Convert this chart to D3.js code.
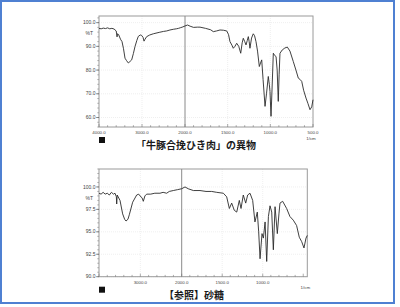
<!DOCTYPE html>
<html>
<head>
<meta charset="utf-8">
<script src="https://cdn.jsdelivr.net/npm/d3@7"></script>
<style>
  html, body { margin: 0; padding: 0; background: #fff; }
  svg { display: block; }
</style>
</head>
<body>
<div id="chart"></div>
<script>
// 上段: 牛豚合挽ひき肉の異物
const topWavenumbers = [4000, 3950, 3900, 3850, 3800, 3750, 3700, 3650, 3600, 3580, 3570, 3545, 3500, 3465, 3430, 3395, 3360, 3318, 3280, 3240, 3200, 3163, 3120, 3086, 3040, 3008, 2975, 2953, 2930, 2891, 2820, 2737, 2600, 2500, 2426, 2350, 2272, 2200, 2150, 2100, 2050, 2000, 1970, 1940, 1900, 1856, 1824, 1760, 1700, 1668, 1630, 1590, 1550, 1511, 1490, 1473, 1450, 1434, 1415, 1394, 1370, 1347, 1330, 1317, 1300, 1285, 1270, 1258, 1248, 1239, 1220, 1200, 1185, 1168, 1150, 1129, 1115, 1101, 1085, 1062, 1045, 1024, 1012, 1004, 992, 980, 965, 950, 933, 920, 907, 897, 887, 860, 830, 801, 770, 731, 700, 672, 650, 632, 610, 582, 560, 535, 515, 500];
const topTransmittance = [97.6, 97.4, 97.7, 97.5, 97.8, 97.4, 97.6, 97.3, 96.5, 94.0, 95.3, 95.0, 93.0, 92.0, 89.0, 85.0, 84.0, 83.0, 83.6, 84.3, 87.0, 89.9, 92.5, 94.2, 94.8, 94.6, 93.8, 92.2, 93.0, 94.1, 94.8, 95.3, 95.9, 96.3, 96.5, 96.9, 97.2, 97.4, 97.6, 97.9, 98.2, 98.6, 99.0, 98.5, 98.0, 98.1, 98.1, 97.6, 97.0, 96.2, 96.5, 96.9, 96.8, 96.5, 95.0, 92.0, 90.5, 89.2, 90.0, 91.3, 90.0, 87.1, 91.5, 93.4, 92.0, 90.6, 92.5, 94.1, 92.0, 89.2, 93.5, 95.3, 94.5, 92.0, 88.0, 81.5, 83.0, 84.3, 76.0, 64.7, 70.0, 77.3, 74.0, 71.0, 60.5, 72.0, 87.1, 86.2, 85.7, 80.0, 66.8, 78.0, 87.1, 88.5, 89.3, 89.7, 88.0, 83.6, 80.0, 76.6, 76.0, 75.2, 71.5, 68.2, 66.0, 63.3, 64.5, 67.5];

// 下段: 参照 砂糖
const bottomWavenumbers = [4000, 3950, 3900, 3850, 3800, 3750, 3700, 3650, 3613, 3580, 3572, 3560, 3492, 3428, 3380, 3347, 3300, 3267, 3186, 3089, 3040, 3008, 2960, 2928, 2890, 2847, 2750, 2650, 2525, 2450, 2364, 2300, 2203, 2100, 2000, 1959, 1920, 1856, 1774, 1700, 1630, 1568, 1486, 1445, 1412, 1383, 1351, 1321, 1289, 1268, 1240, 1210, 1186, 1157, 1124, 1096, 1067, 1050, 1033, 1009, 992, 971, 951, 930, 910, 889, 869, 848, 820, 800, 787, 754, 705, 664, 623, 582, 549, 519, 491, 466, 450];
const bottomTransmittance = [99.3, 99.2, 99.4, 99.2, 99.3, 99.1, 99.4, 99.2, 99.3, 98.9, 98.1, 99.1, 98.5, 97.0, 96.4, 96.2, 96.4, 96.9, 98.3, 99.1, 99.2, 99.0, 98.8, 98.4, 99.0, 99.2, 99.2, 99.3, 99.3, 99.4, 99.3, 99.5, 99.6, 99.7, 99.8, 100.0, 99.8, 99.6, 99.6, 99.5, 99.5, 99.4, 99.3, 98.9, 97.6, 98.2, 97.4, 97.2, 98.5, 97.6, 99.1, 98.2, 99.1, 99.3, 98.5, 96.1, 97.2, 95.0, 92.0, 94.8, 94.3, 96.1, 91.7, 96.7, 97.9, 97.2, 93.0, 97.8, 94.8, 97.0, 98.2, 98.4, 97.6, 96.7, 96.3, 95.7, 94.4, 93.9, 93.2, 94.3, 94.6];

const topXTicks = [4000, 3000, 2000, 1500, 1000, 500];
const topYTicks = [100, 90, 80, 70, 60];
const bottomXTicks = [3000, 2000, 1500, 1000];
const bottomYTicks = [100, 97.5, 95, 92.5, 90];

const topTitle = '「牛豚合挽ひき肉」の異物';
const bottomTitle = '【参照】砂糖';

const W = 400, H = 307;
const svg = d3.select('#chart').append('svg')
  .attr('width', W).attr('height', H);

svg.append('rect')
  .attr('x', 1).attr('y', 1).attr('width', 393).attr('height', 302)
  .attr('fill', 'none').attr('stroke', '#4f80d2').attr('stroke-width', 2);

function drawPanel(cfg) {
  const x = d3.scaleLinear().domain(cfg.xDomain).range(cfg.xRange);
  const y = d3.scaleLinear().domain(cfg.yDomain).range([cfg.bottom, cfg.top]);
  const g = svg.append('g');
  const left = cfg.xRange[0], right = cfg.xRange[2];

  // faint grid
  cfg.xTicks.filter(t => t !== cfg.xDomain[0] && t !== cfg.xDomain[1] && t !== cfg.xDomain[2])
    .forEach(t => {
      g.append('line').attr('x1', x(t)).attr('x2', x(t)).attr('y1', cfg.top).attr('y2', cfg.bottom)
        .attr('stroke', '#e4e4e4').attr('stroke-width', 0.6).attr('stroke-dasharray', '1,1');
    });
  cfg.yTicks.forEach(t => {
    g.append('line').attr('x1', left).attr('x2', right).attr('y1', y(t)).attr('y2', y(t))
      .attr('stroke', '#e4e4e4').attr('stroke-width', 0.6).attr('stroke-dasharray', '1,1');
  });

  // frame
  g.append('rect')
    .attr('x', left).attr('y', cfg.top)
    .attr('width', right - left).attr('height', cfg.bottom - cfg.top)
    .attr('fill', 'none').attr('stroke', '#9a9a9a').attr('stroke-width', 1);

  // scale break at 2000
  g.append('line')
    .attr('x1', x(2000)).attr('x2', x(2000)).attr('y1', cfg.top).attr('y2', cfg.bottom)
    .attr('stroke', '#8a8a8a').attr('stroke-width', 1);

  // minor x ticks
  const minorX = d3.range(4000, 2000, -200).concat(d3.range(2000, cfg.xDomain[2] - 1, -100));
  minorX.forEach(t => {
    const major = cfg.xTicksAll.includes(t);
    g.append('line').attr('x1', x(t)).attr('x2', x(t))
      .attr('y1', cfg.bottom).attr('y2', cfg.bottom - (major ? 3 : 1.8))
      .attr('stroke', '#777').attr('stroke-width', 0.6);
  });

  // y ticks
  const minorY = d3.range(cfg.yDomain[0], cfg.yDomain[1] + 0.001, cfg.yMinor);
  minorY.forEach(t => {
    g.append('line').attr('x1', left).attr('x2', left - 1.8)
      .attr('y1', y(t)).attr('y2', y(t))
      .attr('stroke', '#777').attr('stroke-width', 0.5);
  });
  cfg.yTicks.forEach(t => {
    g.append('line').attr('x1', left).attr('x2', left - 3)
      .attr('y1', y(t)).attr('y2', y(t))
      .attr('stroke', '#555').attr('stroke-width', 0.6);
    g.append('text').attr('x', left - 3.5).attr('y', y(t) + 1.6)
      .attr('text-anchor', 'end').attr('font-family', 'Liberation Sans, Arial, sans-serif')
      .attr('font-size', 5).attr('fill', '#444').text(t.toFixed(1));
  });
  g.append('text').attr('x', left - 6).attr('y', y(cfg.pctAt) + 1.6)
    .attr('text-anchor', 'end').attr('font-family', 'Liberation Sans, Arial, sans-serif')
    .attr('font-size', 5).attr('fill', '#444').text('%T');

  // x labels
  cfg.xTicks.forEach(t => {
    g.append('text').attr('x', x(t)).attr('y', cfg.bottom + 7)
      .attr('text-anchor', 'middle').attr('font-family', 'Liberation Sans, Arial, sans-serif')
      .attr('font-size', 4.4).attr('fill', '#444').text(t.toFixed(1));
  });
  g.append('text').attr('x', right - 2).attr('y', cfg.bottom + 12.5)
    .attr('text-anchor', 'middle').attr('font-family', 'Liberation Sans, Arial, sans-serif')
    .attr('font-size', 4.4).attr('fill', '#444').text('1/cm');

  // spectrum
  const line = d3.line().x(d => x(d[0])).y(d => y(d[1]));
  g.append('path')
    .datum(cfg.wn.map((w, i) => [w, cfg.tr[i]]))
    .attr('d', line)
    .attr('fill', 'none').attr('stroke', '#2a2a2a').attr('stroke-width', 0.9)
    .attr('stroke-linejoin', 'round');

  // marker and title
  g.append('rect').attr('x', left).attr('y', cfg.bottom + 10).attr('width', 6).attr('height', 6)
    .attr('fill', '#111');
  g.append('text').attr('x', cfg.titleX).attr('y', cfg.bottom + 22)
    .attr('text-anchor', 'middle')
    .attr('font-family', 'Noto Sans CJK JP, sans-serif')
    .attr('font-size', 10).attr('font-weight', 600).attr('fill', '#1a1a1a')
    .text(cfg.title);
}

drawPanel({
  xDomain: [4000, 2000, 500], xRange: [99, 185, 313],
  yDomain: [56, 102.8], yMinor: 2, top: 16, bottom: 127,
  xTicks: topXTicks, xTicksAll: topXTicks, yTicks: topYTicks, pctAt: 95.3,
  wn: topWavenumbers, tr: topTransmittance, title: topTitle, titleX: 196
});

drawPanel({
  xDomain: [4000, 2000, 450], xRange: [99, 181.7, 307.3],
  yDomain: [90, 102], yMinor: 0.5, top: 169, bottom: 276.7,
  xTicks: bottomXTicks, xTicksAll: [4000, 3000, 2000, 1500, 1000, 500], yTicks: bottomYTicks, pctAt: 98.75,
  wn: bottomWavenumbers, tr: bottomTransmittance, title: bottomTitle, titleX: 194
});
</script>
</body>
</html>
